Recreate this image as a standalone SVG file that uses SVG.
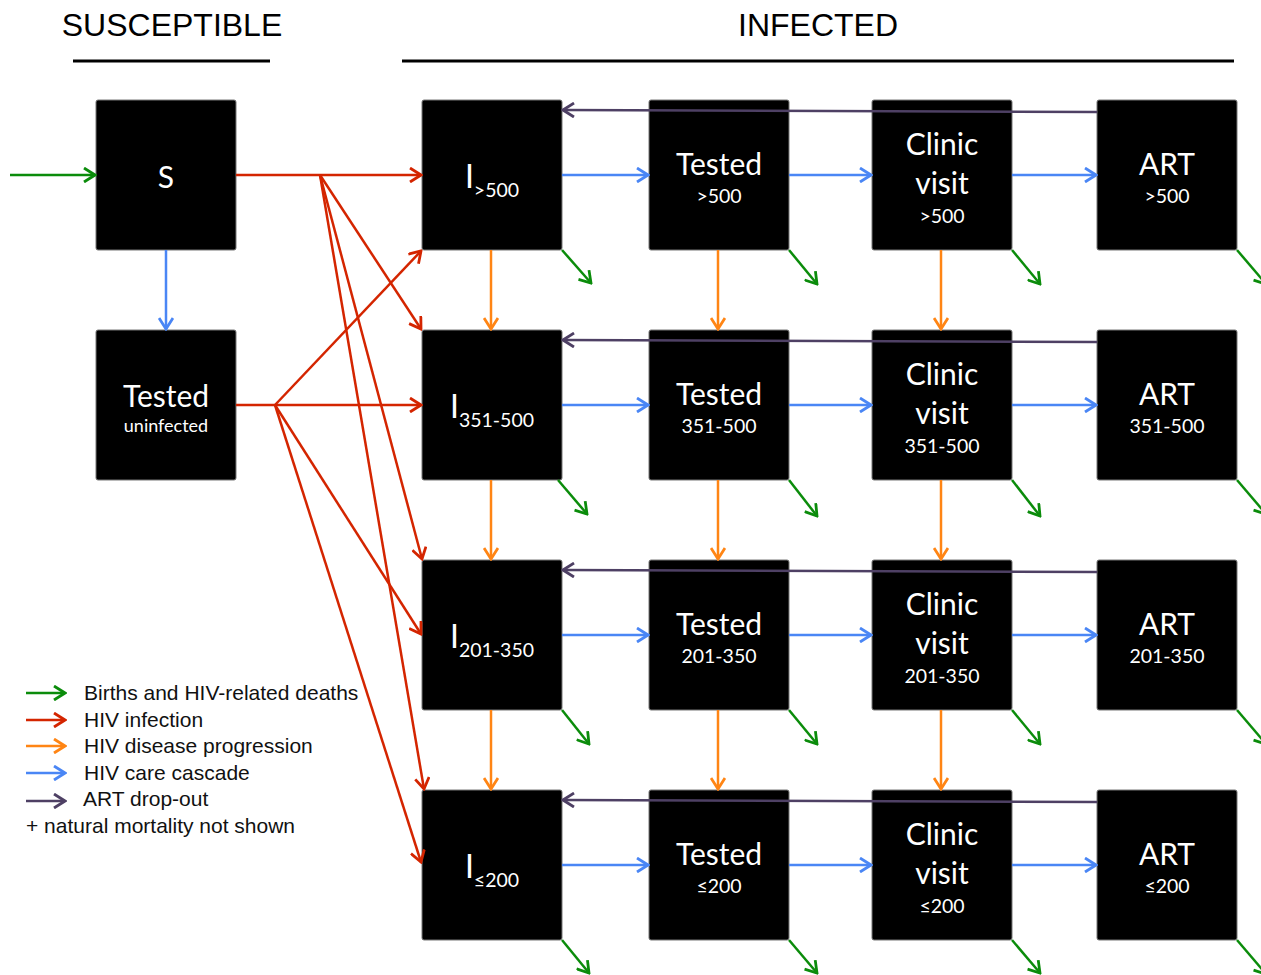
<svg xmlns="http://www.w3.org/2000/svg" width="1261" height="975" viewBox="0 0 1261 975">
<style>
.box{fill:#000;stroke:#777;stroke-width:1}
.t{fill:#fff;font-family:Lato,"Open Sans","Noto Sans",sans-serif;text-anchor:middle}
.big{font-size:30px}
.sm{font-size:19.5px}
.hdr{font-family:"Liberation Sans",Arial,sans-serif;font-size:32px;fill:#000;text-anchor:middle}
.leg{font-family:"Liberation Sans",Arial,sans-serif;font-size:21px;fill:#111}
.c{fill:none;stroke-width:2.5}
.g{stroke:#0b8c0b}
.r{stroke:#d42500}
.o{stroke:#ff8514}
.b{stroke:#4a86f5}
.p{stroke:#4e4064}
</style>
<defs>
<marker id="mg" markerUnits="userSpaceOnUse" viewBox="0 0 14 16" refX="12" refY="8" markerWidth="14" markerHeight="16" orient="auto"><path d="M1,1 L12,8 L1,15" fill="none" stroke="#0b8c0b" stroke-width="2.8"/></marker>
<marker id="mr" markerUnits="userSpaceOnUse" viewBox="0 0 14 16" refX="12" refY="8" markerWidth="14" markerHeight="16" orient="auto"><path d="M1,1 L12,8 L1,15" fill="none" stroke="#d42500" stroke-width="2.8"/></marker>
<marker id="mo" markerUnits="userSpaceOnUse" viewBox="0 0 14 16" refX="12" refY="8" markerWidth="14" markerHeight="16" orient="auto"><path d="M1,1 L12,8 L1,15" fill="none" stroke="#ff8514" stroke-width="2.8"/></marker>
<marker id="mb" markerUnits="userSpaceOnUse" viewBox="0 0 14 16" refX="12" refY="8" markerWidth="14" markerHeight="16" orient="auto"><path d="M1,1 L12,8 L1,15" fill="none" stroke="#4a86f5" stroke-width="2.8"/></marker>
<marker id="mp" markerUnits="userSpaceOnUse" viewBox="0 0 14 16" refX="12" refY="8" markerWidth="14" markerHeight="16" orient="auto"><path d="M1,1 L12,8 L1,15" fill="none" stroke="#4e4064" stroke-width="2.8"/></marker>
</defs>
<rect width="1261" height="975" fill="#fff"/>

<g id="headers">
<text class="hdr" x="172" y="36">SUSCEPTIBLE</text>
<text class="hdr" x="818" y="36">INFECTED</text>
<line x1="73" y1="61" x2="270" y2="61" stroke="#000" stroke-width="3"/>
<line x1="402" y1="61" x2="1234" y2="61" stroke="#000" stroke-width="3"/>
</g>

<g id="S"><rect class="box" x="96" y="100" width="140" height="150" rx="2"/><text class="t big" x="166" y="188">S</text></g>
<g id="TU"><rect class="box" x="96" y="330" width="140" height="150" rx="2"/><text class="t big" x="166" y="407">Tested</text><text class="t" style="font-size:18px" x="166" y="432">uninfected</text></g>

<g id="I1"><rect class="box" x="422" y="100" width="140" height="150" rx="2"/><text class="t" x="492" y="188"><tspan style="font-size:32px">I</tspan><tspan class="sm" dy="9">&gt;500</tspan></text></g>
<g id="T1"><rect class="box" x="649" y="100" width="140" height="150" rx="2"/><text class="t big" x="719" y="175">Tested</text><text class="t sm" x="719" y="203">&gt;500</text></g>
<g id="C1"><rect class="box" x="872" y="100" width="140" height="150" rx="2"/><text class="t big" x="942" y="155">Clinic</text><text class="t big" x="942" y="194">visit</text><text class="t sm" x="942" y="223">&gt;500</text></g>
<g id="A1"><rect class="box" x="1097" y="100" width="140" height="150" rx="2"/><text class="t big" x="1167" y="175">ART</text><text class="t sm" x="1167" y="203">&gt;500</text></g>

<g id="I2"><rect class="box" x="422" y="330" width="140" height="150" rx="2"/><text class="t" x="492" y="418"><tspan style="font-size:32px">I</tspan><tspan class="sm" dy="9">351-500</tspan></text></g>
<g id="T2"><rect class="box" x="649" y="330" width="140" height="150" rx="2"/><text class="t big" x="719" y="405">Tested</text><text class="t sm" x="719" y="433">351-500</text></g>
<g id="C2"><rect class="box" x="872" y="330" width="140" height="150" rx="2"/><text class="t big" x="942" y="385">Clinic</text><text class="t big" x="942" y="424">visit</text><text class="t sm" x="942" y="453">351-500</text></g>
<g id="A2"><rect class="box" x="1097" y="330" width="140" height="150" rx="2"/><text class="t big" x="1167" y="405">ART</text><text class="t sm" x="1167" y="433">351-500</text></g>

<g id="I3"><rect class="box" x="422" y="560" width="140" height="150" rx="2"/><text class="t" x="492" y="648"><tspan style="font-size:32px">I</tspan><tspan class="sm" dy="9">201-350</tspan></text></g>
<g id="T3"><rect class="box" x="649" y="560" width="140" height="150" rx="2"/><text class="t big" x="719" y="635">Tested</text><text class="t sm" x="719" y="663">201-350</text></g>
<g id="C3"><rect class="box" x="872" y="560" width="140" height="150" rx="2"/><text class="t big" x="942" y="615">Clinic</text><text class="t big" x="942" y="654">visit</text><text class="t sm" x="942" y="683">201-350</text></g>
<g id="A3"><rect class="box" x="1097" y="560" width="140" height="150" rx="2"/><text class="t big" x="1167" y="635">ART</text><text class="t sm" x="1167" y="663">201-350</text></g>

<g id="I4"><rect class="box" x="422" y="790" width="140" height="150" rx="2"/><text class="t" x="492" y="878"><tspan style="font-size:32px">I</tspan><tspan class="sm" dy="9">≤200</tspan></text></g>
<g id="T4"><rect class="box" x="649" y="790" width="140" height="150" rx="2"/><text class="t big" x="719" y="865">Tested</text><text class="t sm" x="719" y="893">≤200</text></g>
<g id="C4"><rect class="box" x="872" y="790" width="140" height="150" rx="2"/><text class="t big" x="942" y="845">Clinic</text><text class="t big" x="942" y="884">visit</text><text class="t sm" x="942" y="913">≤200</text></g>
<g id="A4"><rect class="box" x="1097" y="790" width="140" height="150" rx="2"/><text class="t big" x="1167" y="865">ART</text><text class="t sm" x="1167" y="893">≤200</text></g>

<g id="connectors" class="c">
<line class="c g" x1="10" y1="175" x2="95" y2="175" marker-end="url(#mg)"/>
<line class="c g" x1="562" y1="250" x2="591" y2="283" marker-end="url(#mg)"/>
<line class="c g" x1="789" y1="250" x2="817" y2="284" marker-end="url(#mg)"/>
<line class="c g" x1="1012" y1="250" x2="1040" y2="284" marker-end="url(#mg)"/>
<line class="c g" x1="1237" y1="250" x2="1266" y2="284" marker-end="url(#mg)"/>
<line class="c g" x1="558" y1="480" x2="587" y2="514" marker-end="url(#mg)"/>
<line class="c g" x1="789" y1="480" x2="817" y2="516" marker-end="url(#mg)"/>
<line class="c g" x1="1012" y1="480" x2="1040" y2="516" marker-end="url(#mg)"/>
<line class="c g" x1="1237" y1="480" x2="1266" y2="514" marker-end="url(#mg)"/>
<line class="c g" x1="562" y1="710" x2="589" y2="744" marker-end="url(#mg)"/>
<line class="c g" x1="789" y1="710" x2="817" y2="744" marker-end="url(#mg)"/>
<line class="c g" x1="1012" y1="710" x2="1040" y2="744" marker-end="url(#mg)"/>
<line class="c g" x1="1237" y1="710" x2="1266" y2="744" marker-end="url(#mg)"/>
<line class="c g" x1="562" y1="940" x2="589" y2="973" marker-end="url(#mg)"/>
<line class="c g" x1="789" y1="940" x2="817" y2="973" marker-end="url(#mg)"/>
<line class="c g" x1="1012" y1="940" x2="1040" y2="973" marker-end="url(#mg)"/>
<line class="c g" x1="1237" y1="940" x2="1266" y2="974" marker-end="url(#mg)"/>
<polyline class="c r" points="236,175 320,175 421,175" marker-end="url(#mr)"/>
<line class="c r" x1="320" y1="175" x2="421" y2="329" marker-end="url(#mr)"/>
<line class="c r" x1="320" y1="175" x2="422" y2="559" marker-end="url(#mr)"/>
<line class="c r" x1="320" y1="175" x2="424" y2="789" marker-end="url(#mr)"/>
<polyline class="c r" points="236,405 275,405 421,405" marker-end="url(#mr)"/>
<line class="c r" x1="275" y1="405" x2="421" y2="251" marker-end="url(#mr)"/>
<line class="c r" x1="275" y1="405" x2="421" y2="634" marker-end="url(#mr)"/>
<line class="c r" x1="275" y1="405" x2="421" y2="862" marker-end="url(#mr)"/>
<line class="c b" x1="166" y1="250" x2="166" y2="329" marker-end="url(#mb)"/>
<line class="c b" x1="562" y1="175" x2="648" y2="175" marker-end="url(#mb)"/>
<line class="c b" x1="789" y1="175" x2="871" y2="175" marker-end="url(#mb)"/>
<line class="c b" x1="1012" y1="175" x2="1096" y2="175" marker-end="url(#mb)"/>
<line class="c b" x1="562" y1="405" x2="648" y2="405" marker-end="url(#mb)"/>
<line class="c b" x1="789" y1="405" x2="871" y2="405" marker-end="url(#mb)"/>
<line class="c b" x1="1012" y1="405" x2="1096" y2="405" marker-end="url(#mb)"/>
<line class="c b" x1="562" y1="635" x2="648" y2="635" marker-end="url(#mb)"/>
<line class="c b" x1="789" y1="635" x2="871" y2="635" marker-end="url(#mb)"/>
<line class="c b" x1="1012" y1="635" x2="1096" y2="635" marker-end="url(#mb)"/>
<line class="c b" x1="562" y1="865" x2="648" y2="865" marker-end="url(#mb)"/>
<line class="c b" x1="789" y1="865" x2="871" y2="865" marker-end="url(#mb)"/>
<line class="c b" x1="1012" y1="865" x2="1096" y2="865" marker-end="url(#mb)"/>
<line class="c o" x1="491" y1="250" x2="491" y2="329" marker-end="url(#mo)"/>
<line class="c o" x1="718" y1="250" x2="718" y2="329" marker-end="url(#mo)"/>
<line class="c o" x1="941" y1="250" x2="941" y2="329" marker-end="url(#mo)"/>
<line class="c o" x1="491" y1="480" x2="491" y2="559" marker-end="url(#mo)"/>
<line class="c o" x1="718" y1="480" x2="718" y2="559" marker-end="url(#mo)"/>
<line class="c o" x1="941" y1="480" x2="941" y2="559" marker-end="url(#mo)"/>
<line class="c o" x1="491" y1="710" x2="491" y2="789" marker-end="url(#mo)"/>
<line class="c o" x1="718" y1="710" x2="718" y2="789" marker-end="url(#mo)"/>
<line class="c o" x1="941" y1="710" x2="941" y2="789" marker-end="url(#mo)"/>
<line class="c p" x1="1097" y1="112" x2="563" y2="110" marker-end="url(#mp)"/>
<line class="c p" x1="1097" y1="342" x2="563" y2="340" marker-end="url(#mp)"/>
<line class="c p" x1="1097" y1="572" x2="563" y2="570" marker-end="url(#mp)"/>
<line class="c p" x1="1097" y1="802" x2="563" y2="800" marker-end="url(#mp)"/>
</g>

<g id="legend">
<line class="c g" x1="26" y1="693" x2="65" y2="693" marker-end="url(#mg)"/>
<line class="c r" x1="26" y1="720" x2="65" y2="720" marker-end="url(#mr)"/>
<line class="c o" x1="26" y1="746" x2="65" y2="746" marker-end="url(#mo)"/>
<line class="c b" x1="26" y1="773" x2="65" y2="773" marker-end="url(#mb)"/>
<line class="c p" x1="26" y1="801" x2="65" y2="801" marker-end="url(#mp)"/>
<text class="leg" x="84" y="700">Births and HIV-related deaths</text>
<text class="leg" x="84" y="727">HIV infection</text>
<text class="leg" x="84" y="753">HIV disease progression</text>
<text class="leg" x="84" y="780">HIV care cascade</text>
<text class="leg" x="83" y="806">ART drop-out</text>
<text class="leg" x="26" y="833">+ natural mortality not shown</text>
</g>
</svg>
